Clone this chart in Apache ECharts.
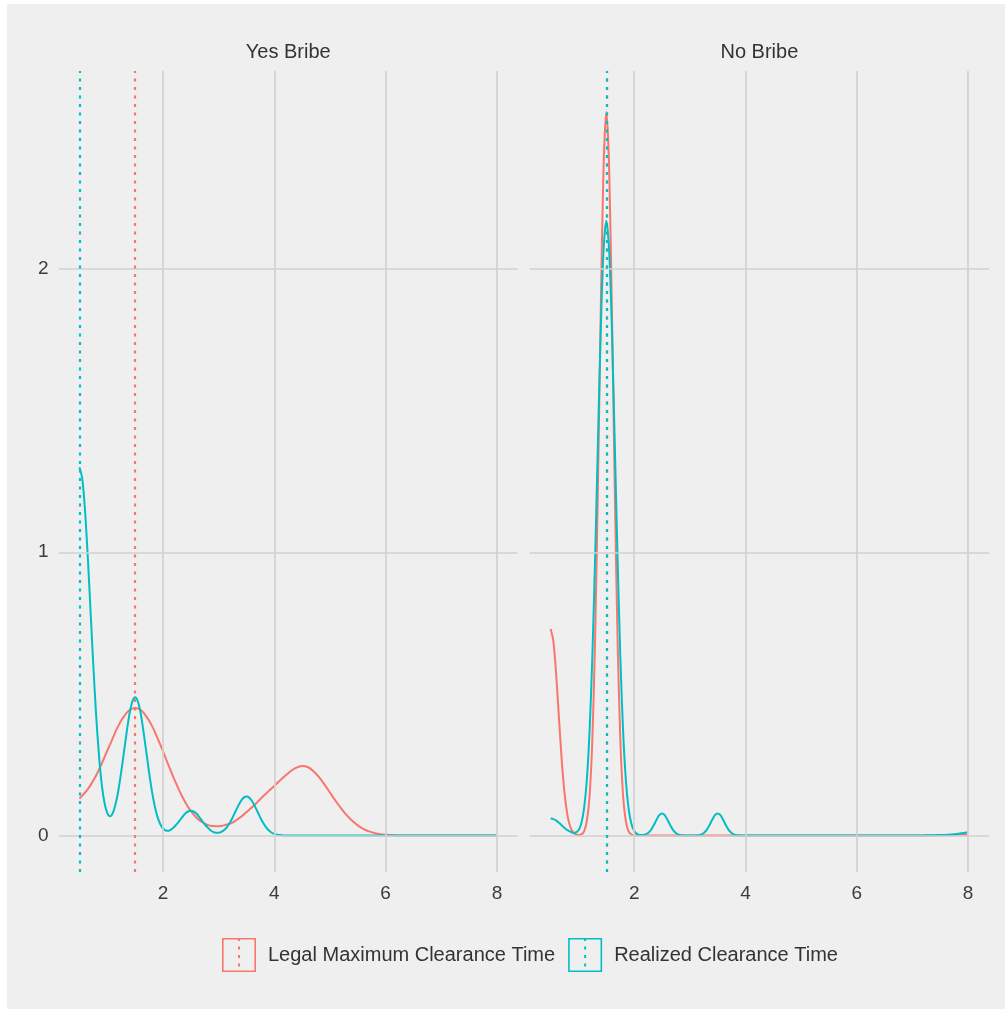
<!DOCTYPE html>
<html>
<head>
<meta charset="utf-8">
<title>Clearance time densities</title>
<script src="https://cdn.jsdelivr.net/npm/echarts@6/dist/echarts.min.js"></script>
<style>
  html, body { margin: 0; padding: 0; background: #fff; }
  #bg { position: absolute; left: 7px; top: 4px; width: 998px; height: 1005px; background: #efefef; }
  #chart { position: absolute; left: 0; top: 0; width: 1005px; height: 1009px; }
</style>
</head>
<body>
<div id="bg"></div>
<div id="chart"></div>
<script>
// facets and legend entries
const panels = ["Yes Bribe", "No Bribe"];
const legendNames = ["Legal Maximum Clearance Time", "Realized Clearance Time"];
const xTicks = [2, 4, 6, 8];
const yTicks = [0, 1, 2];

// dotted reference lines per panel
const vlineLegal = [1.5, 1.5];
const vlineRealized = [0.5, 1.5];

// Yes Bribe densities
const yesX = [0.5,0.55,0.6,0.65,0.7,0.75,0.8,0.85,0.9,0.95,
  1,1.05,1.1,1.15,1.2,1.25,1.3,1.35,1.4,1.45,
  1.5,1.55,1.6,1.65,1.7,1.75,1.8,1.85,1.9,1.95,
  2,2.05,2.1,2.15,2.2,2.25,2.3,2.35,2.4,2.45,
  2.5,2.55,2.6,2.65,2.7,2.75,2.8,2.85,2.9,2.95,
  3,3.05,3.1,3.15,3.2,3.25,3.3,3.35,3.4,3.45,
  3.5,3.55,3.6,3.65,3.7,3.75,3.8,3.85,3.9,3.95,
  4,4.05,4.1,4.15,4.2,4.25,4.3,4.35,4.4,4.45,
  4.5,4.6,4.7,4.8,4.9,5,5.1,5.2,5.3,5.4,
  5.5,5.6,5.7,5.8,5.9,6,6.1,6.2,6.3,6.4,
  6.5,7,7.5,8];
const yesLegal = [0.131,0.141,0.152,0.164,0.178,0.195,0.212,0.233,0.254,0.277,
  0.300,0.322,0.345,0.368,0.388,0.406,0.421,0.434,0.443,0.448,
  0.450,0.448,0.443,0.434,0.421,0.406,0.388,0.368,0.345,0.322,
  0.298,0.273,0.248,0.224,0.200,0.178,0.156,0.136,0.118,0.101,
  0.087,0.075,0.064,0.055,0.048,0.042,0.038,0.035,0.034,0.033,
  0.033,0.034,0.036,0.039,0.042,0.046,0.052,0.059,0.066,0.074,
  0.083,0.091,0.100,0.109,0.119,0.129,0.139,0.148,0.157,0.166,
  0.175,0.185,0.194,0.203,0.212,0.220,0.228,0.235,0.240,0.244,
  0.246,0.242,0.228,0.207,0.181,0.152,0.123,0.096,0.072,0.052,
  0.036,0.024,0.015,0.009,0.005,0.003,0.002,0.001,0,0,
  0,0,0,0];
const yesRealized = [1.300,1.260,1.147,0.981,0.788,0.596,0.423,0.284,0.181,0.115,
  0.079,0.068,0.080,0.112,0.161,0.225,0.296,0.368,0.431,0.473,
  0.488,0.473,0.431,0.368,0.296,0.224,0.159,0.106,0.067,0.041,
  0.025,0.018,0.017,0.022,0.030,0.041,0.053,0.066,0.078,0.085,
  0.088,0.085,0.078,0.066,0.053,0.040,0.029,0.020,0.013,0.010,
  0.010,0.013,0.020,0.030,0.045,0.063,0.084,0.104,0.122,0.134,
  0.138,0.134,0.122,0.104,0.084,0.063,0.045,0.030,0.019,0.011,
  0.006,0.003,0.002,0.001,0,0,0,0,0,0,
  0,0,0,0,0,0,0,0,0,0,
  0,0,0,0,0,0,0,0,0,0,
  0,0,0,0];

// No Bribe densities
const noX = [0.5,0.55,0.6,0.65,0.7,0.75,0.8,0.85,0.9,0.95,
  1,1.05,1.1,1.15,1.2,1.25,1.3,1.35,1.4,1.45,
  1.5,1.55,1.6,1.65,1.7,1.75,1.8,1.85,1.9,1.95,
  2,2.05,2.1,2.15,2.2,2.25,2.3,2.35,2.4,2.45,
  2.5,2.55,2.6,2.65,2.7,2.75,2.8,2.85,2.9,2.95,
  3,3.05,3.1,3.15,3.2,3.25,3.3,3.35,3.4,3.45,
  3.5,3.55,3.6,3.65,3.7,3.75,3.8,3.85,3.9,3.95,
  4,4.5,5,5.5,6,6.5,7,7.25,7.5,7.75,8];
const noLegal = [0.729,0.684,0.565,0.411,0.263,0.148,0.073,0.032,0.012,0.004,
  0.002,0.004,0.015,0.051,0.143,0.346,0.710,1.244,1.855,2.359,
  2.555,2.359,1.855,1.244,0.710,0.346,0.143,0.051,0.015,0.004,
  0.001,0,0,0,0,0,0,0,0,0,
  0,0,0,0,0,0,0,0,0,0,
  0,0,0,0,0,0,0,0,0,0,
  0,0,0,0,0,0,0,0,0,0,
  0,0,0,0,0,0,0,0,0.001,0.002,0.004];
const noRealized = [0.060,0.058,0.053,0.045,0.036,0.027,0.019,0.014,0.010,0.011,
  0.019,0.043,0.096,0.198,0.374,0.640,0.993,1.398,1.785,2.066,
  2.170,2.066,1.785,1.398,0.993,0.640,0.374,0.198,0.095,0.042,
  0.017,0.006,0.002,0.002,0.004,0.009,0.019,0.036,0.055,0.072,
  0.078,0.072,0.055,0.036,0.019,0.009,0.003,0.001,0,0,
  0,0,0,0.001,0.003,0.009,0.019,0.036,0.055,0.072,
  0.078,0.072,0.055,0.036,0.019,0.009,0.003,0.001,0,0,
  0,0,0,0,0,0,0,0.001,0.002,0.005,0.012];

const red = "#F8766D";
const teal = "#00BFC4";
const font = "'Liberation Sans', Arial, Helvetica, sans-serif";
const pairs = (xs, ys) => xs.map((x, i) => [x, ys[i]]);

let mychart = echarts.init(document.getElementById("chart"));

const gridBoxes = [
  { left: 58.6, top: 71, width: 459.2, height: 801 },
  { left: 529.8, top: 71, width: 459.2, height: 801 }
];
const curves = [
  [yesLegal, yesRealized, yesX],
  [noLegal, noRealized, noX]
];

let xAxes = [], yAxes = [], series = [], titles = [];
panels.forEach((name, i) => {
  xAxes.push({
    type: "value", gridIndex: i, min: 0.125, max: 8.375,
    minInterval: 2, maxInterval: 2,
    axisLine: { show: false }, axisTick: { show: false }, splitLine: { show: false },
    axisLabel: {
      color: "#3c3c3c", fontSize: 19, fontFamily: font, margin: 12,
      formatter: (v) => (xTicks.includes(v) ? String(v) : "")
    }
  });
  yAxes.push({
    type: "value", gridIndex: i, min: -0.1285, max: 2.6985,
    minInterval: 1, maxInterval: 1,
    axisLine: { show: false }, axisTick: { show: false }, splitLine: { show: false },
    axisLabel: {
      show: i === 0, color: "#3c3c3c", fontSize: 19, fontFamily: font, margin: 10,
      formatter: (v) => (yTicks.includes(v) ? String(v) : "")
    }
  });
  titles.push({
    text: name, left: gridBoxes[i].left + gridBoxes[i].width / 2, top: 42,
    textAlign: "center", padding: 0,
    textStyle: { fontSize: 20, fontWeight: "normal", color: "#333", fontFamily: font }
  });

  // panel grid lines
  series.push({
    name: "grid" + i, type: "line", xAxisIndex: i, yAxisIndex: i, data: [], z: 1, silent: true,
    markLine: {
      silent: true, symbol: "none", animation: false, label: { show: false },
      emphasis: { disabled: true },
      lineStyle: { color: "#d1d1d1", width: 1.7, type: "solid" },
      data: xTicks.map((v) => ({ xAxis: v })).concat(yTicks.map((v) => ({ yAxis: v })))
    }
  });

  const [legal, realized, xs] = curves[i];
  series.push({
    name: legendNames[0], type: "line", xAxisIndex: i, yAxisIndex: i, color: red,
    data: pairs(xs, legal), symbol: "none", smooth: 0.3, z: 2,
    lineStyle: { width: 2, color: red }
  });
  series.push({
    name: legendNames[1], type: "line", xAxisIndex: i, yAxisIndex: i, color: teal,
    data: pairs(xs, realized), symbol: "none", smooth: 0.3, z: 3,
    lineStyle: { width: 2, color: teal }
  });

  // dotted reference lines
  series.push({
    name: "vline" + i, type: "line", xAxisIndex: i, yAxisIndex: i, data: [], z: 4, silent: true,
    markLine: {
      silent: true, symbol: "none", animation: false, label: { show: false },
      emphasis: { disabled: true },
      data: [
        { xAxis: vlineLegal[i], lineStyle: { color: red, width: 2.2, type: [3, 5.5] } },
        { xAxis: vlineRealized[i], lineStyle: { color: teal, width: 2.2, type: [3, 5.5] } }
      ]
    }
  });
});

mychart.setOption({
  animation: false,
  title: titles,
  grid: gridBoxes,
  xAxis: xAxes,
  yAxis: yAxes,
  legend: {
    data: legendNames,
    left: 222, top: 938, padding: 0,
    itemWidth: 34, itemHeight: 34, itemGap: 13,
    selectedMode: false,
    icon: "path://M0,0H34V34H0Z M1.6,1.6V32.4H32.4V1.6Z M16,0H18V3H16Z M16,8.5H18V11.5H16Z M16,17H18V20H16Z M16,25.5H18V28.5H16Z",
    itemStyle: { borderWidth: 0 },
    textStyle: { fontSize: 20, color: "#333", fontFamily: font, padding: [0, 0, 0, 7] }
  },
  series: series
});
</script>
</body>
</html>
